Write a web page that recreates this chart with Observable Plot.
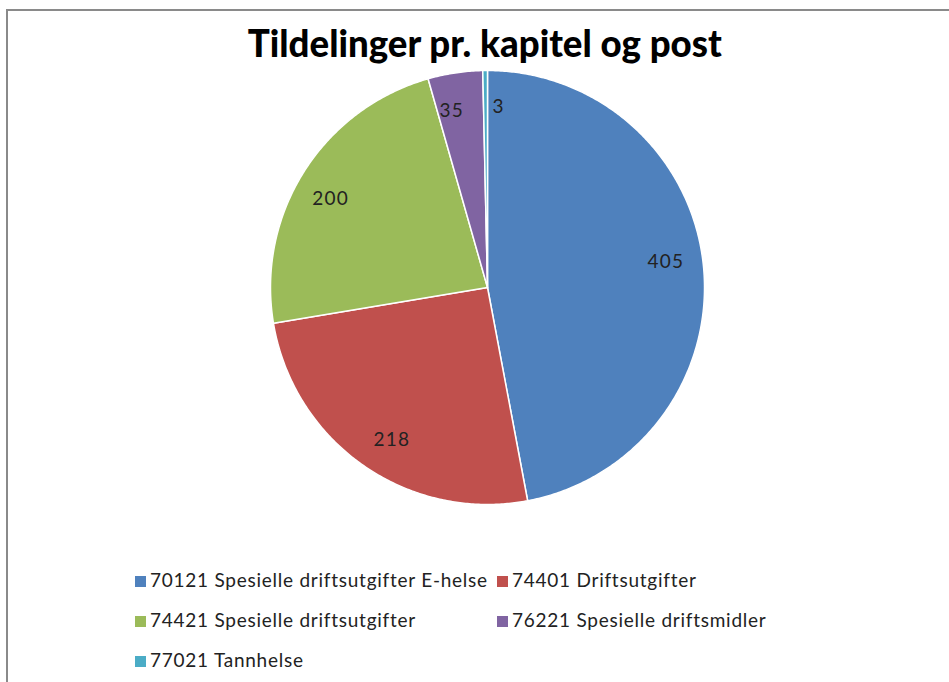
<!DOCTYPE html>
<html>
<head>
<meta charset="utf-8">
<script src="https://cdn.jsdelivr.net/npm/d3@7"></script>
<script src="https://cdn.jsdelivr.net/npm/@observablehq/plot@0.6"></script>
<style>
  html, body { margin: 0; padding: 0; background: #fff; }
  body { width: 949px; height: 682px; overflow: hidden; position: relative; font-family: Lato, "Open Sans", sans-serif; }
  #frame { position: absolute; left: 6px; top: 9px; width: 960px; height: 700px; border-left: 2px solid #8a8a8a; border-top: 2px solid #8a8a8a; }
  #title { position: absolute; left: 10px; top: 20px; width: 949px; text-align: center; font-weight: 900; font-size: 38px; color: #000; line-height: 44px; white-space: nowrap; }
  #title span { display: inline-block; transform-origin: 50% 50%; }
  #chart { position: absolute; left: 0; top: 62px; }
  .leg { position: absolute; font-size: 19px; letter-spacing: 0.75px; color: #222; white-space: nowrap; line-height: 20px; }
  .sw { display: inline-block; width: 11px; height: 11px; margin-right: 4px; vertical-align: 0px; }
</style>
</head>
<body>
<div id="frame"></div>
<div id="title"><span>Tildelinger pr. kapitel og post</span></div>
<div id="chart"></div>
<div id="legend"></div>
<script>
const categories = [
  "70121 Spesielle driftsutgifter E-helse",
  "74401 Driftsutgifter",
  "74421 Spesielle driftsutgifter",
  "76221 Spesielle driftsmidler",
  "77021 Tannhelse"
];
const values = [405, 218, 200, 35, 3];
const colors = ["#4F81BD", "#C0504D", "#9BBB59", "#8064A2", "#4BACC6"];

// title width fit
const tspan = document.querySelector("#title span");
const tw = tspan.getBoundingClientRect().width;
tspan.style.transform = `scaleX(${474 / tw})`;

const data = categories.map((c, i) => ({name: c, value: values[i]}));
const arcs = d3.pie().sort(null).value(d => d.value).startAngle(0).endAngle(2 * Math.PI)(data);

// polygon points for each slice (unit circle, y up)
const pts = [];
arcs.forEach(a => {
  const n = Math.max(2, Math.ceil((a.endAngle - a.startAngle) / (Math.PI / 360)));
  pts.push({name: a.data.name, x: 0, y: 0});
  for (let k = 0; k <= n; k++) {
    const t = a.startAngle + (a.endAngle - a.startAngle) * k / n;
    pts.push({name: a.data.name, x: Math.sin(t), y: Math.cos(t)});
  }
  pts.push({name: a.data.name, x: 0, y: 0});
});

const labels = arcs.map(a => {
  const tiny = (a.endAngle - a.startAngle) < 0.05;
  const m = (a.startAngle + a.endAngle) / 2 - (tiny ? 0 : 0.05);
  const f = 0.83;
  return {
    name: a.data.name, value: a.data.value,
    x: Math.sin(m) * f, y: Math.cos(m) * f,
    anchor: tiny ? "start" : "middle"
  };
});

const cx = 487, cy = 225, r = 217;
const plot = Plot.plot({
  width: 949,
  height: 480,
  margin: 0,
  x: {domain: [-1, 1], range: [cx - r, cx + r], axis: null},
  y: {domain: [-1, 1], range: [cy + r, cy - r], axis: null},
  color: {domain: categories, range: colors},
  style: {background: "transparent", overflow: "visible"},
  marks: [
    Plot.line(pts, {x: "x", y: "y", z: "name", fill: "name", stroke: "#fff", strokeWidth: 1.5, curve: "linear"}),
    Plot.text(labels.filter(d => d.anchor === "middle"), {x: "x", y: "y", text: d => String(d.value), fill: "#222", fontSize: 19, fontFamily: "Lato, sans-serif"}),
    Plot.text(labels.filter(d => d.anchor === "start"), {x: "x", y: "y", text: d => String(d.value), fill: "#222", fontSize: 19, fontFamily: "Lato, sans-serif", textAnchor: "start", dx: 7})
  ]
});
plot.querySelectorAll("text").forEach(t => t.setAttribute("letter-spacing", "1.2"));
document.getElementById("chart").appendChild(plot);

// legend
const legPos = [[135, 570], [497, 570], [135, 610], [497, 610], [135, 650]];
const leg = document.getElementById("legend");
categories.forEach((c, i) => {
  const d = document.createElement("div");
  d.className = "leg";
  d.style.left = legPos[i][0] + "px";
  d.style.top = legPos[i][1] + "px";
  d.innerHTML = `<span class="sw" style="background:${colors[i]}"></span>${c}`;
  leg.appendChild(d);
});
</script>
</body>
</html>
